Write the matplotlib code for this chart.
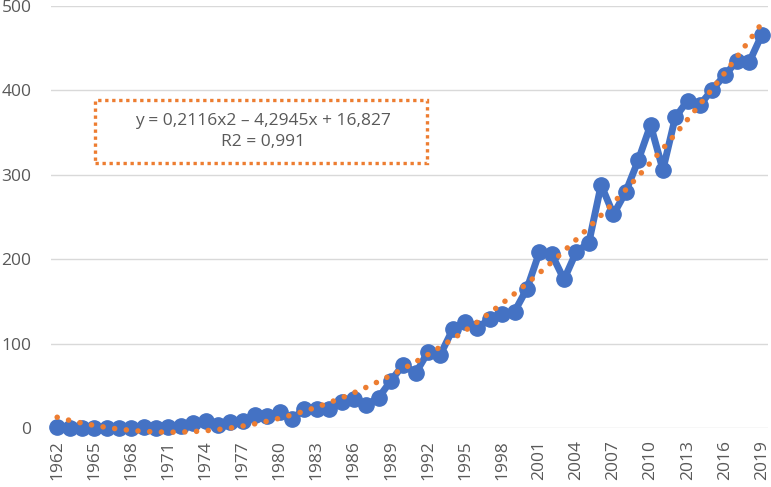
import numpy as np
import matplotlib
matplotlib.use('Agg')
import matplotlib.pyplot as plt
from matplotlib.patches import Rectangle

years = list(range(1962, 2020))
values = [1, 0, 0, 0, 0, 0, 0, 1, 0, 1,
          2, 6, 8, 3, 7, 8, 15, 14, 19, 11,
          22, 22, 23, 31, 34, 27, 36, 56, 75, 65,
          90, 87, 117, 126, 119, 129, 135, 138, 165, 208,
          206, 176, 209, 219, 288, 253, 280, 317, 359, 306,
          368, 388, 383, 401, 418, 435, 434, 466]
# trendline coefficients shown in the chart (x = 1..58)
trend_coef = [0.2116, -4.2945, 16.827]
eq_text = "y = 0,2116x2 \u2013 4,2945x + 16,827\nR2 = 0,991"

blue = '#4472C4'
orange = '#ED7D31'
grey = '#595959'

plt.rcParams['font.family'] = ['Open Sans', 'DejaVu Sans']

fig = plt.figure(figsize=(7.71, 4.87), dpi=100)
ax = fig.add_axes([51 / 771, 1 - 428 / 487, (768 - 51) / 771, (428 - 6) / 487])

x = np.arange(len(years))
trend = np.polyval(trend_coef, x + 1)

ax.plot(x, values, color=blue, lw=5, marker='o', ms=11, solid_joinstyle='round',
        clip_on=False, zorder=3)
ax.plot(x, trend, color=orange, lw=4, linestyle=(0, (0.01, 2.1)),
        dash_capstyle='round', clip_on=False, zorder=4)

ax.set_xlim(-0.5, len(years) - 0.5)
ax.set_ylim(0, 500)
ax.set_yticks(range(0, 501, 100))
ax.set_xticks(x[::3])
ax.set_xticklabels([str(y) for y in years[::3]], rotation=90)
ax.tick_params(axis='both', length=0, labelsize=12.5, labelcolor=grey)
ax.tick_params(axis='x', pad=9)
ax.tick_params(axis='y', pad=14)
ax.yaxis.grid(True, color='#d9d9d9', lw=1)
ax.set_axisbelow(True)
for s in ax.spines.values():
    s.set_visible(False)

# equation box
fig.patches.append(Rectangle((95 / 771, 1 - 163 / 487), (427 - 95) / 771, (163 - 100) / 487,
                             transform=fig.transFigure, fill=False, edgecolor=orange,
                             lw=2.4, linestyle=(0, (1, 1.1)), zorder=5))
fig.text(263 / 771, 1 - 131.5 / 487, eq_text, ha='center', va='center', color=grey,
         fontsize=12.5, linespacing=1.35)

plt.savefig('out.png', dpi=100)
